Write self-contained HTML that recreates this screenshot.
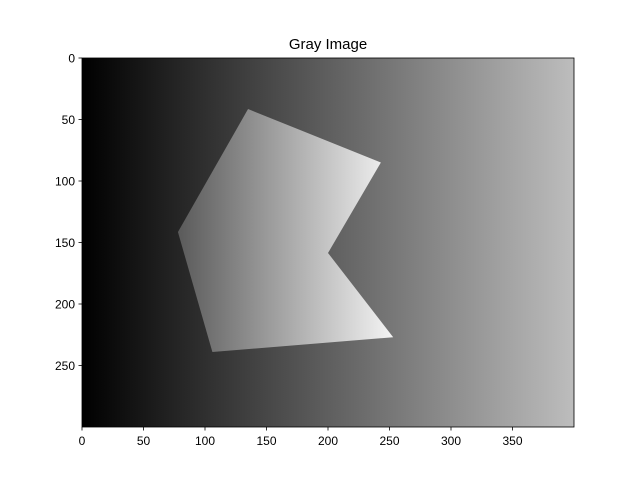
<!DOCTYPE html>
<html><head><meta charset="utf-8"><style>
body{margin:0;background:#fff;font-family:"Liberation Sans","DejaVu Sans",sans-serif}
</style></head><body>
<svg id="chart" width="640" height="480" xmlns="http://www.w3.org/2000/svg">
<defs>
<linearGradient id="bg" x1="0" x2="1" y1="0" y2="0">
<stop offset="0" stop-color="#000"/><stop offset="1" stop-color="#bdbdbd"/>
</linearGradient>
<linearGradient id="pg" gradientUnits="userSpaceOnUse" x1="178" x2="393" y1="0" y2="0">
<stop offset="0" stop-color="#5a5a5a"/><stop offset="1" stop-color="#f4f4f4"/>
</linearGradient>
</defs>
<text x="328" y="49" text-anchor="middle" font-size="15">Gray Image</text>
<g id="plot"></g>
</svg>
<script>
const imgW = 400, imgH = 300;
const polyX = [135, 243, 200, 253, 106, 78];
const polyY = [41.5, 85, 158.5, 227, 239, 141.5];
const xTicks = [0, 50, 100, 150, 200, 250, 300, 350];
const yTicks = [0, 50, 100, 150, 200, 250];
const L = 82, T = 58, W = 492, H = 369;
const sx = v => L + v / imgW * W;
const sy = v => T + v / imgH * H;
const NS = "http://www.w3.org/2000/svg";
const g = document.getElementById('plot');
function mk(tag, attrs){const e=document.createElementNS(NS,tag);for(const k in attrs)e.setAttribute(k,attrs[k]);g.appendChild(e);return e;}
const bg = mk('rect',{x:L,y:T,width:W,height:H,fill:'url(#bg)'});


const pts = polyX.map((x,i)=>sx(x)+','+sy(polyY[i])).join(' ');
const poly = mk('polygon',{points:pts,fill:'url(#pg)'});


const fr = mk('rect',{x:L,y:T,width:W,height:H,fill:'none',stroke:'#000','stroke-width':0.8});


xTicks.forEach(v=>{
  const x = sx(v);
  const t = mk('line',{x1:x,x2:x,y1:T+H,y2:T+H+3.5,stroke:'#000','stroke-width':0.8});
  
  
  const lb = mk('text',{x:x,y:T+H+18,'text-anchor':'middle','font-size':12});
  lb.textContent = v;
  
  
});
yTicks.forEach(v=>{
  const y = sy(v);
  const t = mk('line',{x1:L-3.5,x2:L,y1:y,y2:y,stroke:'#000','stroke-width':0.8});
  
  
  const lb = mk('text',{x:L-7,y:y+4.5,'text-anchor':'end','font-size':12});
  lb.textContent = v;
  
  
});
</script>
</body></html>
